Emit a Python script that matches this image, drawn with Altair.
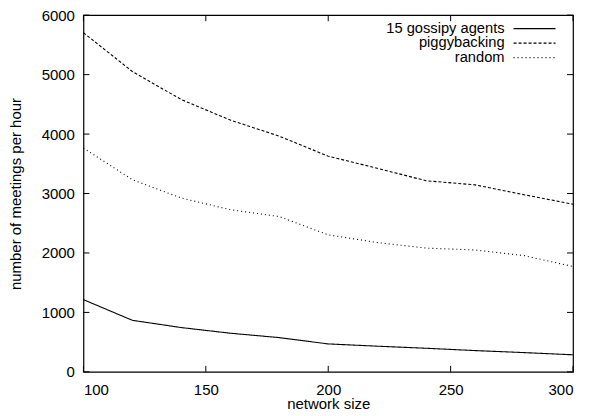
import altair as alt
import pandas as pd

network_size = [100, 120, 140, 160, 180, 200, 220, 240, 260, 280, 300]
series_names = ["15 gossipy agents", "piggybacking", "random"]
gossipy = [1215, 867, 745, 650, 576, 470, 432, 397, 358, 324, 287]
piggyback = [5705, 5052, 4580, 4235, 3965, 3628, 3425, 3215, 3145, 2980, 2820]
random_ = [3765, 3232, 2924, 2728, 2612, 2305, 2175, 2082, 2050, 1955, 1772]
x_ticks = [100, 150, 200, 250, 300]
y_ticks = [0, 1000, 2000, 3000, 4000, 5000, 6000]

rows = []
for name, vals in zip(series_names, [gossipy, piggyback, random_]):
    for xv, yv in zip(network_size, vals):
        rows.append({"network size": xv, "value": yv, "series": name})
df = pd.DataFrame(rows)

W, H = 490, 357
FONT = "Liberation Sans"
FS = 15
dashes = [[1, 0], [3, 2], [1, 3]]

xs = alt.Scale(domain=[100, 300], nice=False, zero=False)
ys = alt.Scale(domain=[0, 6000], nice=False)

axis_style = dict(grid=False, ticks=False, domain=False, format="d",
                  labelFont=FONT, titleFont=FONT, labelFontSize=FS,
                  titleFontSize=FS, labelColor="black", titleColor="black",
                  titleFontWeight="normal")

lines = alt.Chart(df).mark_line(color="black", strokeWidth=1.1).encode(
    x=alt.X("network size:Q", scale=xs,
            axis=alt.Axis(values=x_ticks, title="network size",
                          labelPadding=11, titleY=32, titleBaseline="middle",
                          **axis_style)),
    y=alt.Y("value:Q", scale=ys,
            axis=alt.Axis(values=y_ticks,
                          title="number of meetings per hour",
                          labelPadding=9, titleX=-68, titleBaseline="middle",
                          **axis_style)),
    strokeDash=alt.StrokeDash("series:N",
                              scale=alt.Scale(domain=series_names, range=dashes),
                              legend=None),
    detail="series:N",
)

xt = pd.DataFrame({"t": x_ticks})
yt = pd.DataFrame({"t": y_ticks})
tick_layers = [
    alt.Chart(xt).mark_rule(color="black").encode(
        x=alt.X("t:Q", scale=xs), y=alt.value(H), y2=alt.value(H - 6)),
    alt.Chart(xt).mark_rule(color="black").encode(
        x=alt.X("t:Q", scale=xs), y=alt.value(0), y2=alt.value(6)),
    alt.Chart(yt).mark_rule(color="black").encode(
        y=alt.Y("t:Q", scale=ys), x=alt.value(0), x2=alt.value(6)),
    alt.Chart(yt).mark_rule(color="black").encode(
        y=alt.Y("t:Q", scale=ys), x=alt.value(W), x2=alt.value(W - 6)),
]

legend_layers = []
row_y = [13.5, 28.0, 42.5]
for name, dash, ry in zip(series_names, dashes, row_y):
    ldf = pd.DataFrame({"label": [name]})
    legend_layers.append(
        alt.Chart(ldf).mark_text(align="right", baseline="middle", font=FONT,
                                 fontSize=14.7, color="black").encode(
            text="label:N", x=alt.value(421.5), y=alt.value(ry)))
    legend_layers.append(
        alt.Chart(ldf).mark_rule(color="black", strokeWidth=1.1,
                                 strokeDash=dash).encode(
            x=alt.value(430.5), x2=alt.value(472.5), y=alt.value(ry)))

chart = alt.layer(lines, *tick_layers, *legend_layers).properties(
    width=W, height=H,
    autosize=alt.AutoSizeParams(type="none"),
    padding={"left": 75.5, "top": 7, "right": 8, "bottom": 43},
).configure_view(stroke="black", strokeWidth=1.2)

chart.save("out.html", embed_options={"renderer": "svg", "actions": False})
